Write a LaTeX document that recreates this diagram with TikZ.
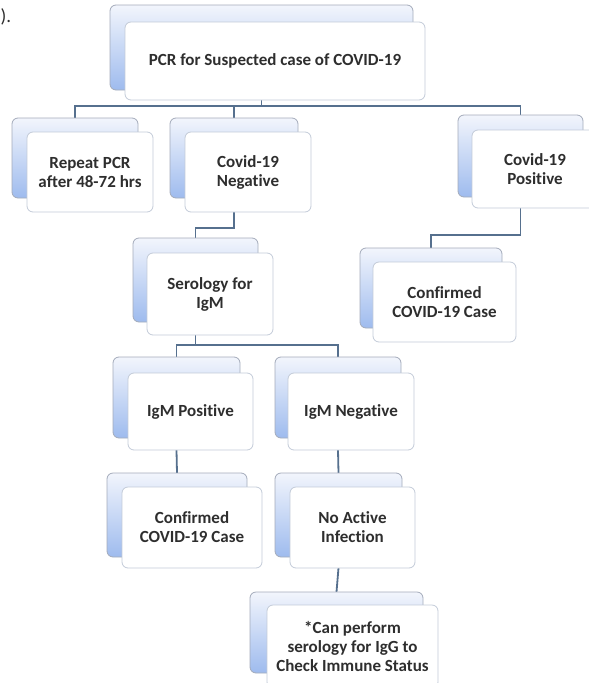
\documentclass[tikz,border=0pt]{standalone}
\usepackage{fontspec}
\setmainfont{Carlito}[Ligatures=NoCommon]
\usetikzlibrary{calc}
\pgfdeclarelayer{bg}
\pgfsetlayers{bg,main}
\definecolor{conncol}{HTML}{56708E}
\definecolor{backline}{HTML}{A3ABBA}
\definecolor{frontline}{HTML}{C3CBD8}
\definecolor{backtop}{HTML}{F2F5FC}
\definecolor{backbot}{HTML}{9EBBEE}
\definecolor{txtcol}{HTML}{2E2E2E}
\tikzset{
  bk/.style={draw=backline, line width=0.8pt, rounded corners=6pt, top color=backtop, bottom color=backbot, inner sep=0pt, outer sep=0pt},
  fr/.style={draw=frontline, line width=0.8pt, rounded corners=6pt, fill=white, inner sep=0pt, outer sep=0pt, align=center, text=txtcol, font=\fontsize{17}{19}\selectfont\bfseries},
  conn/.style={draw=conncol, line width=1.8pt}
}
\begin{document}
\begin{tikzpicture}[x=1pt,y=-1pt]
\useasboundingbox (0,0) rectangle (589,683);
\node[anchor=west, text=txtcol, font=\fontsize{19}{22}\selectfont, inner sep=0pt] (frag) at (0.5,17) {).};
% PCR
\node[bk, minimum width=303, minimum height=85] (pcr-b) at (261.5,47.5) {};
\node[fr, minimum width=300, minimum height=78] (pcr) at (275,61) {PCR for Suspected case of COVID-19};
% Repeat
\node[bk, minimum width=126, minimum height=80] (rep-b) at (75,158) {};
\node[fr, minimum width=126, minimum height=80] (rep) at (90,172) {Repeat PCR\\after 48-72 hrs};
% Negative
\node[bk, minimum width=128, minimum height=80] (neg-b) at (234,158) {};
\node[fr, minimum width=126, minimum height=80] (neg) at (248,172) {Covid-19\\Negative};
% Positive
\node[bk, minimum width=125, minimum height=82] (pos-b) at (520.5,156) {};
\node[fr, minimum width=126, minimum height=78] (pos) at (535,169) {Covid-19\\Positive};
% Confirmed right
\node[bk, minimum width=142, minimum height=80] (conf1-b) at (431,288) {};
\node[fr, minimum width=143, minimum height=80] (conf1) at (444.5,302) {Confirmed\\COVID-19 Case};
% Serology
\node[bk, minimum width=125, minimum height=84] (ser-b) at (195.5,280) {};
\node[fr, minimum width=126, minimum height=82] (ser) at (210,294) {Serology for\\IgM};
% IgM Positive
\node[bk, minimum width=127, minimum height=81] (igmp-b) at (176.5,397.5) {};
\node[fr, minimum width=125, minimum height=77] (igmp) at (190.5,411.5) {IgM Positive};
% IgM Negative
\node[bk, minimum width=126, minimum height=81] (igmn-b) at (338,397.5) {};
\node[fr, minimum width=126, minimum height=77] (igmn) at (351,411.5) {IgM Negative};
% Confirmed left
\node[bk, minimum width=140, minimum height=84] (conf2-b) at (177,515) {};
\node[fr, minimum width=140, minimum height=81] (conf2) at (192,527.5) {Confirmed\\COVID-19 Case};
% No active
\node[bk, minimum width=127, minimum height=84] (noact-b) at (338.5,515) {};
\node[fr, minimum width=125, minimum height=81] (noact) at (352.5,527.5) {No Active\\Infection};
% IgG
\node[bk, minimum width=173, minimum height=81] (igg-b) at (336.5,632.5) {};
\node[fr, minimum width=171, minimum height=83] (igg) at (352.5,646.5) {*Can perform\\serology for IgG to\\Check Immune Status};
% connectors
\begin{pgfonlayer}{bg}
\coordinate (bus1) at ($(pcr-b.center |- pcr.south)+(0,6)$);
\draw[conn] (pcr-b.center |- pcr.south) -- (bus1);
\draw[conn] (bus1) -| (rep-b.north);
\draw[conn] (bus1) -| (neg-b.north);
\draw[conn] (bus1) -| (pos-b.north);
\draw[conn] (neg-b.center |- neg.south) -- ++(0,16) -| (ser-b.north);
\draw[conn] (pos-b.center |- pos.south) -- ++(0,27) -| (conf1-b.north);
\coordinate (bus2) at ($(ser-b.center |- ser.south)+(0,10)$);
\draw[conn] (ser-b.center |- ser.south) -- (bus2);
\draw[conn] (bus2) -| (igmp-b.north);
\draw[conn] (bus2) -| (igmn-b.north);
\draw[conn] (igmp-b.center |- igmp.south) -- (conf2-b.north);
\draw[conn] (igmn-b.center |- igmn.south) -- (noact-b.north);
\draw[conn] (noact-b.center |- noact.south) -- (igg-b.north);
\end{pgfonlayer}
\end{tikzpicture}
\end{document}
